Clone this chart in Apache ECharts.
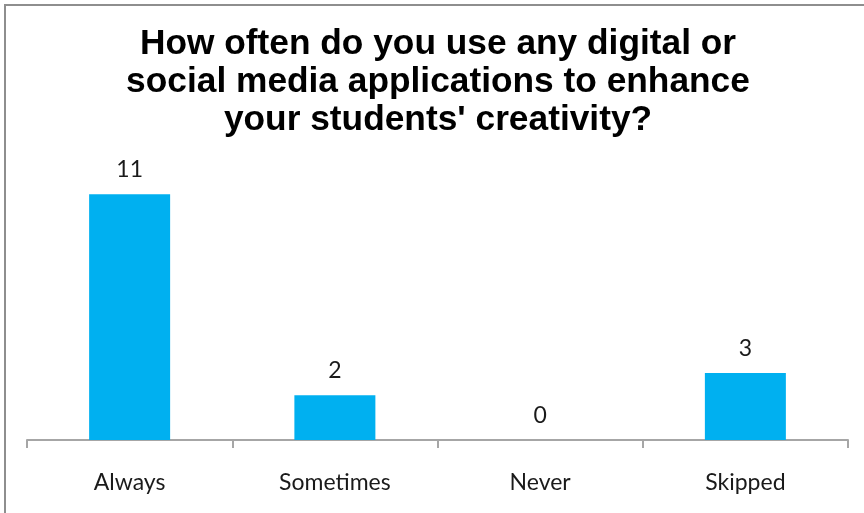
<!DOCTYPE html>
<html>
<head>
<meta charset="utf-8">
<script src="https://cdn.jsdelivr.net/npm/echarts@6/dist/echarts.min.js"></script>
<style>
html,body{margin:0;padding:0;background:#fff;}
#chart{width:864px;height:513px;}
</style>
</head>
<body>
<div id="chart"></div>
<script>
const titleText = "How often do you use any digital or\nsocial media applications to enhance\nyour students' creativity?";
const categories = ["Always", "Sometimes", "Never", "Skipped"];
const counts = [11, 2, 0, 3];

const chart = echarts.init(document.getElementById('chart'), null, {renderer: 'canvas'});
chart.setOption({
  animation: false,
  backgroundColor: '#ffffff',
  title: {
    text: titleText,
    left: 433,
    textAlign: 'center',
    top: 20,
    textStyle: {
      fontFamily: 'Liberation Sans, Arial, sans-serif',
      fontWeight: 'bold',
      fontSize: 35.3,
      lineHeight: 38,
      color: '#000000'
    }
  },
  graphic: [{
    type: 'rect',
    shape: {x: 5, y: 5, width: 1000, height: 1000},
    style: {fill: 'none', stroke: '#8e8e8e', lineWidth: 2},
    silent: true
  }],
  grid: {left: 27, right: 16, top: 172, bottom: 73},
  xAxis: {
    type: 'category',
    data: categories,
    axisLine: {lineStyle: {color: '#a6a6a6', width: 2}},
    axisTick: {show: true, length: 8, lineStyle: {color: '#a6a6a6', width: 2}},
    axisLabel: {
      margin: 31,
      fontFamily: 'Lato, sans-serif',
      fontSize: 23,
      color: '#1a1a1a'
    }
  },
  yAxis: {
    type: 'value',
    min: 0,
    max: 12,
    show: false,
    splitLine: {show: false}
  },
  series: [{
    type: 'bar',
    data: counts,
    barWidth: 81,
    itemStyle: {color: '#00b0f0'},
    label: {
      show: true,
      position: 'top',
      distance: 13,
      fontFamily: 'Lato, sans-serif',
      fontSize: 23,
      color: '#1a1a1a'
    }
  }]
});
</script>
</body>
</html>
